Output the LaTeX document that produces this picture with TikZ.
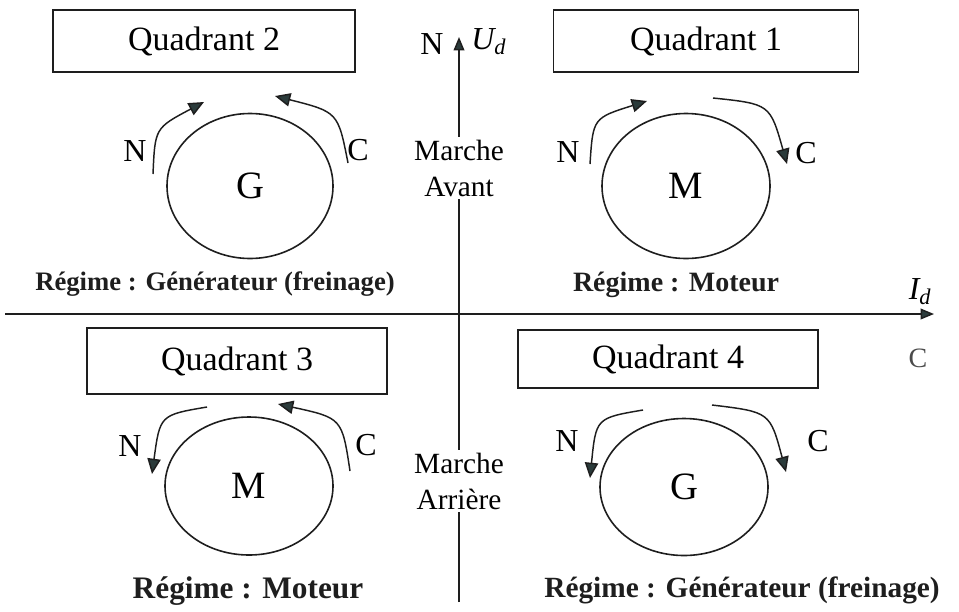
\documentclass[tikz,border=0pt]{standalone}
\usepackage{fontspec}
\setmainfont{Liberation Serif}
\usetikzlibrary{arrows.meta,shapes.geometric}
\definecolor{ink}{HTML}{1E1E1E}
\definecolor{tip}{HTML}{2B3B3B}
\begin{document}
\begin{tikzpicture}[x=0.75pt,y=-0.75pt,
  quadbox/.style={draw=ink,line width=1.3pt,inner sep=0pt,font=\fontsize{25.5}{28}\selectfont},
  mach/.style={draw=ink,line width=1.2pt,ellipse,inner sep=0pt,font=\fontsize{29}{32}\selectfont},
  lbl/.style={font=\fontsize{24}{26}\selectfont,inner sep=0pt},
  regime/.style={font=\bfseries\fontsize{20}{22}\selectfont,inner sep=0pt,text=ink},
  marche/.style={font=\fontsize{22}{27}\selectfont,align=center,fill=white,inner sep=2pt},
  rot/.style={draw=ink,line width=1.1pt,-{Triangle[length=11.5pt,width=10pt,fill=tip]}},
  axis/.style={draw=ink,line width=1.1pt,-{Triangle[length=10pt,width=8pt,fill=tip]}}]
\useasboundingbox (0,0) rectangle (959,611);

% axes
\coordinate (yb) at (459,602);
\coordinate (yt) at (459,37);
\coordinate (xl) at (5,314);
\coordinate (xr) at (934,314);
\draw[axis] (yb) -- (yt);
\draw[axis] (xl) -- (xr);
\node[lbl] (nax) at (432,44) {N};
\node[lbl,anchor=west] (ud) at (471,42) {$\mathit{U}_{\mathit{d}}$};
\node[lbl] (id) at (920,292) {$\mathit{I}_{\mathit{d}}$};
\node[font=\fontsize{21}{24}\selectfont,text=ink!80] (cax) at (918,358) {C};

% marche labels
\node[marche] (mav) at (459,168) {Marche\\Avant};
\node[marche] (mar) at (459,481) {Marche\\Arri\`ere};

% quadrant boxes
\node[quadbox,minimum width=302*0.75pt,minimum height=62*0.75pt] (q2) at (204,41) {Quadrant 2};
\node[quadbox,minimum width=305*0.75pt,minimum height=62*0.75pt] (q1) at (706,41) {Quadrant 1};
\node[quadbox,minimum width=300*0.75pt,minimum height=66*0.75pt] (q3) at (237,361) {Quadrant 3};
\node[quadbox,minimum width=300*0.75pt,minimum height=58*0.75pt] (q4) at (668,359) {Quadrant 4};

% machines
\node[mach,minimum width=166*0.75pt,minimum height=145*0.75pt] (g2) at (250,186) {G};
\node[mach,minimum width=168*0.75pt,minimum height=145*0.75pt] (m1) at (686,186) {M};
\node[mach,minimum width=168*0.75pt,minimum height=138*0.75pt] (m3) at (249,486) {M};
\node[mach,minimum width=168*0.75pt,minimum height=137*0.75pt] (g4) at (684,487) {G};

% Quadrant 2 rotations
\coordinate (q2na) at (153,174); \coordinate (q2nb) at (204,102);
\coordinate (q2ca) at (348,163); \coordinate (q2cb) at (275,96);
\draw[rot] (q2na) .. controls (155,128) .. (q2nb);
\draw[rot] (q2ca) .. controls (338,112) .. (q2cb);
\node[lbl] (q2n) at (135,151) {N};
\node[lbl] (q2c) at (358,150) {C};

% Quadrant 1 rotations
\coordinate (q1na) at (590,164); \coordinate (q1nb) at (647,101);
\coordinate (q1ca) at (713,98); \coordinate (q1cb) at (787,164);
\draw[rot] (q1na) .. controls (593,118) .. (q1nb);
\draw[rot] (q1ca) .. controls (770,104) .. (q1cb);
\node[lbl] (q1n) at (568,152) {N};
\node[lbl] (q1c) at (806,153) {C};

% Quadrant 3 rotations
\coordinate (q3na) at (207,407); \coordinate (q3nb) at (152,474);
\coordinate (q3ca) at (350,471); \coordinate (q3cb) at (278,404);
\draw[rot] (q3na) .. controls (160,415) .. (q3nb);
\draw[rot] (q3ca) .. controls (342,418) .. (q3cb);
\node[lbl] (q3n) at (130,446) {N};
\node[lbl] (q3c) at (366,445) {C};

% Quadrant 4 rotations
\coordinate (q4na) at (643,410); \coordinate (q4nb) at (590,478);
\coordinate (q4ca) at (712,405); \coordinate (q4cb) at (786,472);
\draw[rot] (q4na) .. controls (596,418) .. (q4nb);
\draw[rot] (q4ca) .. controls (770,412) .. (q4cb);
\node[lbl] (q4n) at (567,441) {N};
\node[lbl] (q4c) at (818,441) {C};

% regimes
\node[regime] (r2) at (215,284) {R\'egime : G\'en\'erateur (freinage)};
\node[regime,font=\bfseries\fontsize{21}{23}\selectfont] (r1) at (676,285) {R\'egime : Moteur};
\node[regime,font=\bfseries\fontsize{23.5}{26}\selectfont] (r3) at (248,591) {R\'egime : Moteur};
\node[regime,font=\bfseries\fontsize{22}{24}\selectfont] (r4) at (742,590) {R\'egime : G\'en\'erateur (freinage)};
\end{tikzpicture}
\end{document}
